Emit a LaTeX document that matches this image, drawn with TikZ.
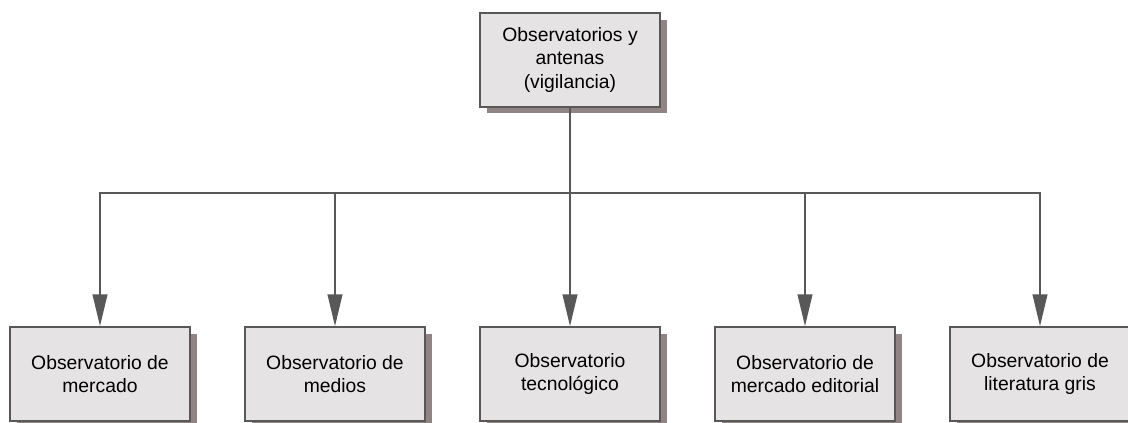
\documentclass[tikz,border=0pt]{standalone}
\usepackage{fontspec}
\setmainfont{Liberation Sans}
\usetikzlibrary{arrows.meta}
\usetikzlibrary{shadows}
\definecolor{ln}{RGB}{88,88,88}
\definecolor{bx}{RGB}{229,227,227}
\definecolor{sh}{RGB}{145,132,132}

\begin{document}
\begin{tikzpicture}[
    x=0.75pt, y=-0.75pt,
    a/.style={
        line width=1.6pt,
        color=ln,
    },
    l/.style={
        a,-{Triangle[length=24pt,width=11pt]}
    },
    m/.style={
        fill=bx, draw=ln, line width=1.6pt,
        minimum width=135pt, minimum height=70pt,
        align=center, font=\fontsize{14.5}{17.5}\selectfont,
        drop shadow={shadow xshift=5pt, shadow yshift=-5pt,
            fill=sh, opacity=1}
    }
]
    \useasboundingbox (0,0) rectangle (1128,423);

    \node [m] (top) at ( 570, 60) {Observatorios y\\antenas\\(vigilancia)};
    \coordinate (bus) at (570, 193);

    \node [m] (m1) at ( 100, 374) {Observatorio de\\mercado};
    \node [m] (m2) at ( 335, 374) {Observatorio de\\medios};
    \node [m] (m3) at ( 570, 374) {Observatorio\\tecnológico};
    \node [m] (m4) at ( 805, 374) {Observatorio de\\mercado editorial};
    \node [m] (m5) at (1040, 374) {Observatorio de\\literatura gris};

    \foreach \i in {1,...,5}
        \draw [l] (top) -- (bus) -| (m\i);

\end{tikzpicture}
\end{document}
